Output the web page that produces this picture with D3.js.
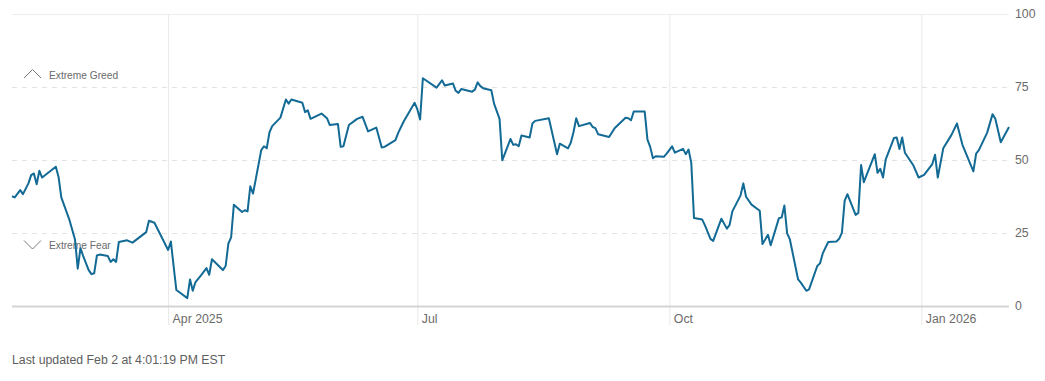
<!DOCTYPE html>
<html>
<head>
<meta charset="utf-8">
<script src="https://cdn.jsdelivr.net/npm/d3@7"></script>
<style>
  body { margin: 0; background: #fff; }
  svg { display: block; font-family: "Liberation Sans", Arial, sans-serif; }
</style>
</head>
<body>
<div id="chart"></div>
<script>
// fear & greed index
const dates = [
  "2025-02-03","2025-02-04","2025-02-06","2025-02-07","2025-02-09","2025-02-10","2025-02-11","2025-02-12","2025-02-13","2025-02-14",
  "2025-02-19","2025-02-20","2025-02-21","2025-02-24","2025-02-26","2025-02-27","2025-02-28","2025-03-01","2025-03-03","2025-03-04",
  "2025-03-05","2025-03-06","2025-03-07","2025-03-10","2025-03-11","2025-03-12","2025-03-13","2025-03-14","2025-03-17","2025-03-19",
  "2025-03-24","2025-03-25","2025-03-27","2025-04-01","2025-04-02","2025-04-03","2025-04-04","2025-04-05","2025-04-08","2025-04-09",
  "2025-04-10","2025-04-11","2025-04-13","2025-04-15","2025-04-16","2025-04-17","2025-04-21","2025-04-22","2025-04-23","2025-04-24",
  "2025-04-25","2025-04-28","2025-04-29","2025-04-30","2025-05-01","2025-05-02","2025-05-05","2025-05-06","2025-05-07","2025-05-08",
  "2025-05-09","2025-05-12","2025-05-14","2025-05-15","2025-05-16","2025-05-20","2025-05-21","2025-05-22","2025-05-23","2025-05-27",
  "2025-05-29","2025-05-30","2025-06-02","2025-06-03","2025-06-04","2025-06-06","2025-06-09","2025-06-11","2025-06-13","2025-06-16",
  "2025-06-18","2025-06-19","2025-06-23","2025-06-24","2025-06-26","2025-06-30","2025-07-01","2025-07-02","2025-07-03","2025-07-08",
  "2025-07-10","2025-07-11","2025-07-14","2025-07-15","2025-07-16","2025-07-17","2025-07-21","2025-07-22","2025-07-23","2025-07-24",
  "2025-07-25","2025-07-28","2025-07-29","2025-07-31","2025-08-01","2025-08-04","2025-08-05","2025-08-06","2025-08-07","2025-08-08",
  "2025-08-11","2025-08-12","2025-08-13","2025-08-18","2025-08-21","2025-08-22","2025-08-25","2025-08-26","2025-08-27","2025-08-28",
  "2025-08-29","2025-09-02","2025-09-03","2025-09-04","2025-09-05","2025-09-09","2025-09-11","2025-09-15","2025-09-16","2025-09-17",
  "2025-09-18","2025-09-22","2025-09-23","2025-09-24","2025-09-25","2025-09-26","2025-09-29","2025-09-30","2025-10-02","2025-10-03",
  "2025-10-06","2025-10-07","2025-10-08","2025-10-09","2025-10-10","2025-10-13","2025-10-14","2025-10-16","2025-10-17","2025-10-20",
  "2025-10-22","2025-10-23","2025-10-24","2025-10-27","2025-10-28","2025-10-29","2025-10-31","2025-11-03","2025-11-04","2025-11-06",
  "2025-11-07","2025-11-10","2025-11-11","2025-11-12","2025-11-13","2025-11-14","2025-11-17","2025-11-18","2025-11-20","2025-11-21",
  "2025-11-24","2025-11-25","2025-11-26","2025-11-28","2025-12-01","2025-12-02","2025-12-03","2025-12-04","2025-12-05","2025-12-08",
  "2025-12-09","2025-12-10","2025-12-11","2025-12-15","2025-12-16","2025-12-17","2025-12-18","2025-12-19","2025-12-22","2025-12-23",
  "2025-12-24","2025-12-25","2025-12-26","2025-12-29","2025-12-31","2026-01-02","2026-01-05","2026-01-06","2026-01-07","2026-01-09",
  "2026-01-12","2026-01-14","2026-01-16","2026-01-20","2026-01-21","2026-01-22","2026-01-25","2026-01-27","2026-01-28","2026-01-30",
  "2026-02-02"
];
const values = [
  37.6, 37.2, 39.7, 38.3, 42.0, 44.8, 45.4, 41.7, 46.3, 44.0,
  47.7, 44.2, 37.2, 29.4, 22.8, 12.8, 19.8, 17.1, 12.3, 10.9,
  11.2, 17.3, 17.6, 17.1, 15.1, 16.0, 15.1, 21.9, 22.5, 21.7,
  25.3, 29.2, 28.5, 19.2, 22.1, 13.7, 5.5, 4.8, 2.7, 9.1,
  5.2, 8.2, 10.5, 13.0, 10.7, 16.0, 12.3, 13.7, 21.4, 23.5,
  34.7, 32.2, 32.8, 32.4, 41.0, 38.5, 53.4, 54.7, 54.0, 59.5,
  61.6, 64.5, 70.7, 69.3, 70.7, 69.6, 66.4, 67.0, 64.1, 65.9,
  64.3, 62.0, 62.3, 54.5, 54.7, 62.0, 64.1, 64.8, 59.8, 61.1,
  54.3, 54.5, 56.8, 59.3, 63.2, 69.6, 67.3, 63.9, 78.0, 74.8,
  77.3, 75.5, 76.2, 73.7, 73.0, 74.3, 73.4, 74.1, 76.6, 75.3,
  74.6, 73.9, 69.3, 64.1, 49.9, 57.2, 55.2, 55.4, 54.7, 58.4,
  57.7, 62.5, 63.4, 64.3, 52.0, 55.6, 54.0, 55.9, 59.5, 64.3,
  61.6, 62.7, 61.3, 60.9, 58.8, 57.9, 60.9, 64.5, 64.3, 63.6,
  66.6, 66.6, 57.0, 54.5, 50.6, 51.3, 51.1, 52.2, 54.7, 52.5,
  53.8, 52.0, 53.6, 49.0, 30.1, 29.6, 27.6, 23.0, 22.3, 29.9,
  26.5, 27.8, 32.4, 37.9, 42.0, 37.4, 34.7, 32.6, 21.2, 24.4,
  20.8, 30.1, 30.3, 34.4, 24.9, 22.8, 9.1, 8.0, 5.2, 5.7,
  13.7, 14.6, 18.0, 21.9, 22.1, 23.0, 25.1, 36.0, 38.3, 31.2,
  31.9, 48.3, 42.4, 52.0, 45.6, 47.0, 44.0, 50.2, 57.5, 57.7,
  53.8, 57.7, 52.5, 48.3, 44.0, 44.9, 48.6, 51.8, 44.0, 54.0,
  58.6, 62.5, 55.2, 46.1, 52.2, 53.4, 59.3, 65.7, 64.1, 56.1,
  61.3
];
const yTicks = [0, 25, 50, 75, 100];
const xTickDates = ["2025-04-01", "2025-07-01", "2025-10-01", "2026-01-01"];
const xTickLabels = ["Apr 2025", "Jul", "Oct", "Jan 2026"];
const zoneLabels = ["Extreme Greed", "Extreme Fear"];
const updatedText = "Last updated Feb 2 at 4:01:19 PM EST";

const W = 1045, H = 381;
const LEFT = 12, RIGHT = 1009, TOP = 14, BOTTOM = 306;
const LINE_COLOR = "#126a95";
const TEXT_COLOR = "#6b6b6b";

const parse = d3.timeParse("%Y-%m-%d");
const data = dates.map((d, i) => ({ date: parse(d), value: values[i] }));

const svg = d3.select("#chart").append("svg")
  .attr("width", W)
  .attr("height", H);

const x = d3.scaleTime()
  .domain([parse("2025-02-03"), parse("2026-02-02")])
  .range([LEFT, RIGHT]);
const y = d3.scaleLinear()
  .domain([0, 100])
  .range([BOTTOM, TOP]);

// vertical grid + month labels
const xAxis = d3.axisBottom(x)
  .tickValues(xTickDates.map(parse))
  .tickFormat((d, i) => xTickLabels[i])
  .tickSize(BOTTOM + 19 - TOP)
  .tickPadding(0);
const xg = svg.append("g")
  .attr("transform", `translate(0, ${TOP})`)
  .call(xAxis);
xg.select(".domain").remove();
xg.selectAll(".tick line").attr("stroke", "#e8e8e8");
xg.selectAll(".tick text")
  .attr("fill", TEXT_COLOR)
  .attr("font-size", 12.3)
  .attr("text-anchor", "start")
  .attr("x", 4)
  .attr("y", BOTTOM - TOP + 8)
  .attr("dy", "0.71em");

// horizontal grid
svg.append("g").selectAll("line")
  .data(yTicks.filter(v => v > 0))
  .join("line")
  .attr("x1", LEFT)
  .attr("x2", RIGHT)
  .attr("y1", d => y(d) + 0.5)
  .attr("y2", d => y(d) + 0.5)
  .attr("stroke", d => d === 100 ? "#ececec" : "#e2e2e2")
  .attr("stroke-dasharray", d => d === 100 ? null : "5,5");

// baseline
svg.append("line")
  .attr("x1", LEFT)
  .attr("x2", RIGHT)
  .attr("y1", y(0) + 0.5)
  .attr("y2", y(0) + 0.5)
  .attr("stroke", "#d4d4d4")
  .attr("stroke-width", 2);

// y labels on the right
const yAxis = d3.axisRight(y)
  .tickValues(yTicks)
  .tickSize(0)
  .tickPadding(0);
const yg = svg.append("g")
  .attr("transform", `translate(${RIGHT + 6}, 0)`)
  .call(yAxis);
yg.select(".domain").remove();
yg.selectAll(".tick text")
  .attr("fill", TEXT_COLOR)
  .attr("font-size", 12.3);

// zone markers
const zones = [
  { label: zoneLabels[0], cy: 75, up: true },
  { label: zoneLabels[1], cy: 245, up: false }
];
zones.forEach(z => {
  const pts = z.up
    ? [[24, z.cy + 3], [32.5, z.cy - 5.5], [41, z.cy + 3]]
    : [[24, z.cy - 4.5], [32.5, z.cy + 4], [41, z.cy - 4.5]];
  svg.append("path")
    .attr("d", d3.line()(pts))
    .attr("fill", "none")
    .attr("stroke", "#7a7a7a")
    .attr("stroke-width", 1);
  svg.append("text")
    .attr("x", 49)
    .attr("y", z.cy)
    .attr("dy", "0.35em")
    .attr("font-size", 10.2)
    .attr("fill", TEXT_COLOR)
    .text(z.label);
});

// the index line
svg.append("path")
  .datum(data)
  .attr("fill", "none")
  .attr("stroke", LINE_COLOR)
  .attr("stroke-width", 2)
  .attr("stroke-linejoin", "round")
  .attr("d", d3.line().x(d => x(d.date)).y(d => y(d.value)));

svg.append("text")
  .attr("x", LEFT)
  .attr("y", 360)
  .attr("dy", "0.35em")
  .attr("font-size", 12.3)
  .attr("fill", "#5e5e5e")
  .text(updatedText);
</script>
</body>
</html>
